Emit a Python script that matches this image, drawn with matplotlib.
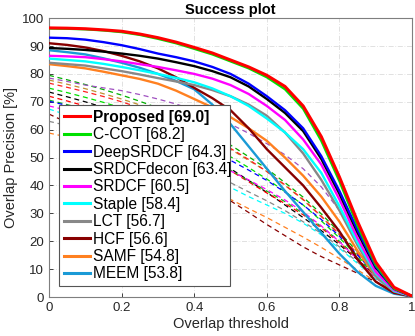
import matplotlib
matplotlib.use("Agg")
import matplotlib.pyplot as plt

plt.rcParams['font.family'] = ['Liberation Sans', 'DejaVu Sans']

# overlap thresholds at which the curves were read
thresholds = [0.0, 0.05, 0.1, 0.15, 0.2, 0.25, 0.3, 0.35, 0.4, 0.45, 0.5,
              0.55, 0.6, 0.65, 0.7, 0.75, 0.8, 0.85, 0.9, 0.95, 1.0]

# solid curves (in legend), success rate in %
proposed   = [96.5, 96.4, 96.2, 95.8, 95.3, 94.3, 93.0, 91.4, 89.5, 87.5, 85.0,
              82.5, 79.5, 75.5, 68.5, 57.5, 43.0, 27.0, 12.5, 3.5, 0.3]
ccot       = [96.3, 96.2, 96.0, 95.6, 95.0, 94.0, 92.6, 91.0, 89.0, 87.0, 84.5,
              82.0, 78.8, 74.5, 67.5, 56.0, 41.5, 25.5, 11.5, 3.0, 0.3]
deepsrdcf  = [93.0, 92.8, 92.3, 91.4, 90.3, 88.9, 87.3, 86.0, 84.5, 82.5, 80.0,
              76.5, 72.0, 67.0, 60.5, 50.5, 38.0, 24.0, 11.0, 3.0, 0.3]
srdcfdecon = [89.3, 89.0, 88.6, 88.0, 87.3, 86.5, 85.5, 84.2, 82.8, 81.0, 78.8,
              75.5, 71.0, 66.0, 59.5, 49.5, 37.0, 23.0, 10.5, 3.0, 0.3]
srdcf      = [86.5, 86.3, 86.0, 85.3, 84.5, 83.5, 82.5, 81.3, 80.0, 78.3, 76.0,
              72.8, 68.5, 63.5, 56.5, 47.5, 35.0, 21.0, 9.0, 2.5, 0.3]
staple     = [85.5, 85.0, 84.5, 83.6, 82.5, 81.3, 80.0, 78.6, 77.0, 74.8, 72.0,
              68.5, 64.0, 59.0, 53.0, 44.5, 32.5, 19.5, 8.5, 2.2, 0.3]
lct        = [84.0, 83.5, 83.0, 82.0, 81.0, 79.8, 78.5, 77.3, 76.0, 74.2, 72.0,
              69.0, 65.0, 59.0, 51.5, 42.0, 31.0, 18.5, 7.5, 2.0, 0.3]
hcf        = [91.0, 90.4, 89.5, 88.2, 86.5, 84.5, 82.0, 78.8, 75.0, 71.3, 67.0,
              60.5, 53.0, 46.5, 40.0, 32.0, 23.5, 13.5, 5.5, 1.5, 0.2]
samf       = [83.5, 82.8, 82.0, 80.8, 79.5, 78.2, 76.5, 74.0, 71.0, 68.0, 64.5,
              60.5, 56.0, 50.0, 43.5, 36.0, 27.0, 16.5, 7.5, 2.0, 0.3]
meem       = [88.5, 87.8, 87.0, 85.6, 84.0, 82.2, 80.0, 77.5, 74.5, 69.0, 62.0,
              54.0, 46.0, 38.0, 30.5, 23.0, 15.5, 9.0, 4.0, 1.2, 0.2]

legend_labels = ['Proposed [69.0]', 'C-COT [68.2]', 'DeepSRDCF [64.3]', 'SRDCFdecon [63.4]',
                 'SRDCF [60.5]', 'Staple [58.4]', 'LCT [56.7]', 'HCF [56.6]', 'SAMF [54.8]',
                 'MEEM [53.8]']
solid_curves = [proposed, ccot, deepsrdcf, srdcfdecon, srdcf, staple, lct, hcf, samf, meem]
solid_colors = ['#ff0000', '#00e000', '#0000ff', '#000000', '#ff00ff', '#00ffff',
                '#888888', '#880000', '#ff8020', '#1a9ad6']

# dashed curves (other trackers, not in legend)
dash_green_a = [79.5, 77.9, 76.2, 74.4, 72.4, 70.2, 67.8, 65.0, 61.9, 58.4, 54.5,
                50.3, 46.0, 41.0, 35.8, 29.8, 23.2, 16.2, 9.2, 3.2, 0.3]
dash_purple  = [78.5, 77.3, 76.0, 75.0, 74.0, 72.6, 71.0, 69.2, 67.0, 64.7, 62.0,
                58.7, 55.0, 51.0, 46.0, 39.5, 31.0, 21.0, 11.0, 3.5, 0.3]
dash_gold    = [77.8, 76.3, 74.7, 72.9, 71.0, 68.9, 66.5, 63.7, 60.5, 57.0, 53.0,
                49.0, 45.0, 40.0, 34.8, 28.8, 22.3, 15.3, 8.5, 3.0, 0.3]
dash_red_a   = [76.7, 75.2, 73.6, 71.9, 70.0, 67.9, 65.7, 63.2, 60.3, 57.0, 53.3,
                49.3, 45.0, 40.2, 35.0, 29.0, 22.5, 15.5, 8.5, 3.0, 0.3]
dash_green_b = [74.9, 73.3, 71.6, 69.8, 67.8, 65.6, 63.2, 60.5, 57.5, 54.0, 50.3,
                46.4, 42.3, 37.8, 33.0, 27.3, 21.2, 14.7, 8.2, 2.8, 0.3]
dash_black   = [73.5, 71.8, 70.0, 68.0, 65.8, 63.3, 60.5, 57.4, 54.0, 50.2, 46.0,
                41.8, 37.5, 33.0, 28.5, 23.8, 18.8, 13.3, 7.7, 2.6, 0.3]
dash_red_b   = [72.0, 70.3, 68.5, 66.5, 64.3, 61.9, 59.2, 56.3, 53.0, 49.3, 45.3,
                41.3, 37.3, 33.5, 29.5, 24.8, 19.5, 13.5, 7.3, 2.5, 0.3]
dash_green_c = [70.6, 69.0, 67.3, 65.4, 63.3, 61.0, 58.5, 55.7, 52.6, 49.2, 45.5,
                41.7, 38.0, 34.2, 30.0, 25.3, 20.0, 14.0, 7.6, 2.5, 0.3]
dash_blue    = [70.2, 68.7, 67.1, 65.4, 63.5, 61.4, 59.1, 57.0, 54.8, 52.0, 49.0,
                45.5, 41.8, 37.6, 33.0, 27.8, 21.8, 15.0, 8.0, 2.6, 0.3]
dash_magenta = [68.5, 67.0, 65.3, 63.5, 61.5, 59.3, 56.9, 54.2, 51.3, 48.3, 45.2,
                42.0, 38.5, 34.8, 30.5, 25.5, 19.8, 13.5, 6.8, 2.2, 0.3]
dash_cyan    = [67.4, 65.3, 63.0, 60.6, 58.0, 55.3, 52.4, 49.3, 46.0, 42.7, 39.3,
                36.0, 33.0, 30.0, 26.5, 22.3, 17.5, 12.0, 6.5, 2.0, 0.3]
dash_darkred = [65.6, 62.6, 59.5, 56.3, 53.0, 49.8, 46.5, 43.5, 40.5, 37.5, 34.5,
                30.3, 26.0, 22.0, 18.0, 14.5, 11.5, 8.5, 5.5, 2.0, 0.3]
dash_gray    = [63.0, 61.5, 60.0, 58.3, 56.5, 54.5, 52.5, 50.0, 47.5, 44.3, 41.0,
                37.7, 34.5, 31.0, 27.0, 22.8, 18.0, 12.5, 6.8, 2.2, 0.3]
dash_orange  = [58.8, 57.4, 56.0, 54.3, 52.5, 50.3, 48.0, 45.0, 42.0, 38.5, 35.0,
                31.7, 28.5, 25.0, 21.5, 17.8, 13.8, 9.7, 5.6, 2.0, 0.3]

dashed_curves = [dash_green_a, dash_purple, dash_gold, dash_red_a, dash_green_b, dash_black,
                 dash_red_b, dash_green_c, dash_blue, dash_magenta, dash_cyan, dash_darkred,
                 dash_gray, dash_orange]
dashed_colors = ['#00b000', '#a050c0', '#c09030', '#ff2020', '#00e000', '#000000',
                 '#ff0000', '#10c010', '#0000ff', '#ff00ff', '#00ffff', '#880000',
                 '#888888', '#ff8020']

fig = plt.figure(figsize=(4.15, 3.36), dpi=100)
ax = fig.add_axes([0.118, 0.116, 0.875, 0.83])

for vals, col in zip(dashed_curves, dashed_colors):
    ax.plot(thresholds, vals, ls=(0, (4, 3)), color=col, lw=0.9, zorder=2)

# draw solid curves so that the first legend entry ends up on top
handles = []
for i in range(len(solid_curves) - 1, -1, -1):
    lw = 2.2 if i == 0 else 1.7
    h, = ax.plot(thresholds, solid_curves[i], color=solid_colors[i], lw=lw, zorder=3 + (10 - i))
    handles.append(h)
handles = handles[::-1]

ax.set_xlim(0, 1)
ax.set_ylim(0, 100)
ax.set_xticks([0, 0.2, 0.4, 0.6, 0.8, 1])
ax.set_xticklabels(['0', '0.2', '0.4', '0.6', '0.8', '1'])
ax.set_yticks(range(0, 101, 10))
ax.tick_params(direction='in', length=3, labelsize=9.5, colors='#262626', width=0.6)
ax.grid(True, ls=(0, (6, 2, 1, 2)), color='#dcdcdc', lw=0.6)
for s in ax.spines.values():
    s.set_color('#7f7f7f')
    s.set_linewidth(0.8)

ax.set_xlabel('Overlap threshold', fontsize=10.5, color='#262626', labelpad=2)
ax.set_ylabel('Overlap Precision [%]', fontsize=10.5, color='#262626', labelpad=3)
ax.set_title('Success plot', fontsize=10.5, fontweight='bold', pad=3)

leg = ax.legend(handles, legend_labels, loc='lower left',
                bbox_to_anchor=(0.0275, 0.039, 0.471, 0.65), mode='expand',
                fontsize=11.2, frameon=True, fancybox=False, framealpha=1,
                edgecolor='#555555', handlelength=1.7, handletextpad=0.2,
                labelspacing=0.155, borderpad=0.3, borderaxespad=0)
leg.get_frame().set_linewidth(0.8)
leg.set_zorder(20)
for h in leg.get_lines():
    h.set_linewidth(2.2)
leg.get_texts()[0].set_fontweight('bold')

fig.savefig('out.png', dpi=100)
